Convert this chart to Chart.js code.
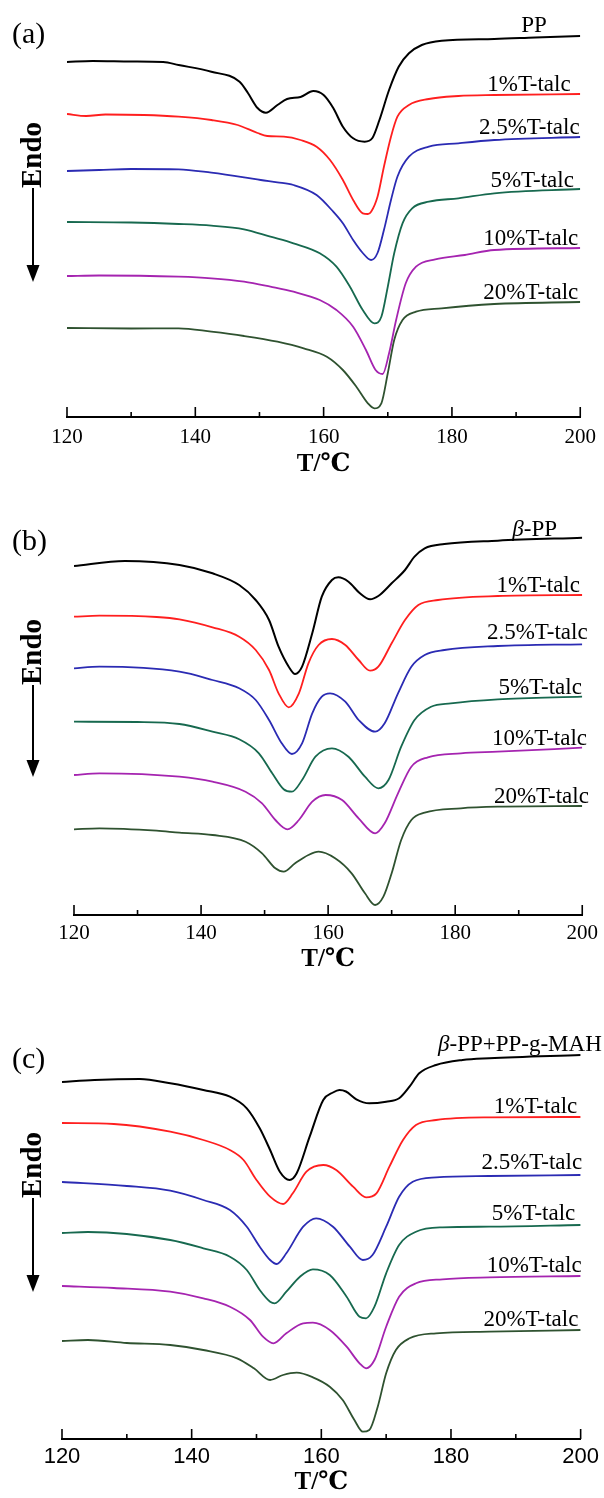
<!DOCTYPE html>
<html>
<head>
<meta charset="utf-8">
<script src="https://cdn.jsdelivr.net/npm/chart.js@4.4.1/dist/chart.umd.min.js"></script>
<style>
  html, body { margin: 0; padding: 0; background: #fff; }
  body { width: 604px; height: 1498px; position: relative; overflow: hidden; }
  canvas { position: absolute; left: 0; }
</style>
</head>
<body>
<canvas id="panelA" width="604" height="480" style="top:0px"></canvas>
<canvas id="panelB" width="604" height="495" style="top:480px"></canvas>
<canvas id="panelC" width="604" height="523" style="top:975px"></canvas>
<script>
// heat flow, arbitrary units (height above the T axis), Endo is down

// ---- (a) PP
const a_pp_T = [120,124,130,135,137.4,142.5,146.9,148.2,149.7,151.0,152.8,154.3,156.4,158.4,160.0,161.5,163.0,164.6,166.4,167.6,168.7,170.2,171.7,173.3,175.3,178.4,186.6,193,200];
const a_pp_H = [355,356,355.5,355,352,345.3,335.3,324,309,304.3,312,318,320,326,322,309,290.3,278.7,275.3,279,297,327,350.3,363.7,372,376.3,378,379.5,381];
const a_1_T = [120,123,126,132,137.4,142.5,146.6,149.7,151.2,153.8,156.4,158.9,161.0,163.0,164.6,166.1,166.9,167.4,168.4,169.4,170.5,171.5,173.3,176.4,181,186.6,200];
const a_1_H = [303,301,302.5,302,300.3,297,292,284,281,280.3,277,270.3,257,237,217,203.7,203,205.3,220.3,250.3,280.3,300.3,312,318,321,322,323];
const a_25_T = [120,125,130,137.4,142.5,147.6,150.2,152.8,155.3,158.9,161.5,163.0,164.6,166.1,167.4,168.4,169.4,170.5,171.5,173.3,176.4,181,186.6,200];
const a_25_H = [246,247,248,247.7,244.3,239.7,237,234.7,232,222,205.3,193.7,177,164,157,164,187,217,240.3,260.3,270.3,273.7,277,280];
const a_5_T = [120,130,137.4,142.5,147.6,151.7,155.3,159.4,162.0,164.1,166.1,167.9,169.0,170.0,171.0,172.3,173.8,176.4,181,186.6,200];
const a_5_H = [195,194.5,193,191.3,187.7,180.3,173.7,163.7,150.3,130.3,107,93.7,100.3,130.3,163.7,193.7,208.7,215.3,218.7,223.7,228];
const a_10_T = [120,125,137.4,142.5,147.6,151.7,155.3,159.4,162.0,164.6,166.6,168.1,169.2,170.2,171.3,172.8,174.4,177.4,182,186.6,200];
const a_10_H = [141,141.5,140.3,138.7,135.3,130.3,125.3,117,107,90.3,67,47,43,63.7,97,133.7,150.3,157.7,162,167,169];
const a_20_T = [120,130,137.4,142.5,147.6,152.8,156.9,160.5,163.0,165.1,166.9,167.9,169.0,170.0,171.0,172.3,174.4,178.4,186.6,200];
const a_20_H = [89,88.5,88.7,85.3,81,75.3,68.7,60.3,47,30.3,13.7,8.7,13.7,43.7,77,97,105.3,108.7,113,115];

// ---- (b) beta-PP
const b_pp_T = [120,128,136.6,141.8,146,148.6,150.7,152.2,153.8,154.8,155.9,157.5,159.0,160.6,161.6,163.2,165.0,166.6,167.9,170.0,172.1,173.6,175.2,178.3,186.7,200];
const b_pp_H = [349,354,350,341.7,330,315,295,268.3,248.3,241,248.3,281.7,318.3,335,337.7,333.3,321.7,315.7,319,331.7,345,358.3,366.7,371,374.3,377.3];
const b_1_T = [120,124,133,136.6,141.8,146,148.6,150.7,152.2,153.8,155.4,156.9,158.5,160.6,162.7,164.8,166.6,167.9,170.0,172.1,174.2,177.3,186.7,200];
const b_1_H = [298.3,299.3,298,295.7,287.7,278.3,265,245,221.7,207.7,221.7,251.7,270,276,270,255,244.3,248.3,271.7,295,310,315,319,320];
const b_25_T = [120,124,136.6,141.8,146,148.6,150.7,152.7,154.3,155.9,157.5,159.0,160.3,162.7,164.8,167.4,168.9,171.0,173.1,175.2,178.3,186.7,200];
const b_25_H = [246.7,248.3,243.3,235,226.7,215,195,171.7,161,171.7,201.7,218.3,221.7,213.3,195,183.3,191.7,221.7,248.3,260,265,269,270.7];
const b_5_T = [120,130,136.6,141.8,146,149.1,151.2,153.0,154.3,155.9,158.0,160.6,163.2,165.8,167.9,169.5,171.5,173.6,176.2,179.3,186.7,200];
const b_5_H = [193.3,193,191,183.3,175.7,161.7,141.7,125.7,123.3,135,158.3,166.7,158.3,138.3,126.7,135,168.3,195,208.3,211.7,215.7,218.3];
const b_10_T = [120,124,136.6,141.8,147.0,149.6,151.7,153.6,155.4,157.5,159.6,162.2,164.8,167.4,168.9,171.0,173.1,175.7,180.9,186.7,200];
const b_10_H = [140,141.7,138.3,133.3,123.3,111.7,95,85.7,95,113.3,120,115,96.7,81.7,91.7,121.7,148.3,157.7,161.7,163.3,167.3];
const b_20_T = [120,124,133,136.6,141.8,147.0,149.6,151.7,153.0,154.8,156.9,158.5,161.1,163.7,165.8,167.4,168.7,170.0,171.5,173.1,175.2,180.9,186.7,200];
const b_20_H = [85.7,86.7,84.3,82.3,80,73.3,61.7,46.7,43.3,51.7,60,63.3,56.7,41.7,21.7,10,18.3,41.7,75,95,102.3,106.7,108.3,109];

// ---- (c) beta-PP + PP-g-MAH
const c_pp_T = [120,125,132,136.7,141.8,145.9,148.5,150.5,152.1,153.6,155.1,156.2,158.2,160.3,161.8,162.8,163.8,165.4,167.4,170.0,172.0,173.6,175.1,177.7,181.8,185.9,200];
const c_pp_H = [357,359,360,355.7,349,342.3,330.7,310.7,289,267.3,259,265.7,302.3,339,346.5,349,347.5,339.7,335.7,337.3,340.7,352.3,365.7,374,379,380.7,384];
const c_1_T = [120,128,136.7,141.8,145.9,148.0,150.0,152.1,154.1,155.6,157.7,160.3,162.3,164.9,166.9,168.5,170.5,172.6,174.6,177.7,185.9,200];
const c_1_H = [316,315,307.3,299,289,279,259,242.3,235,245.7,267.3,274,269,252.3,241.7,245.7,272.3,299,314,319,321.7,322];
const c_25_T = [120,130,136.7,141.8,145.9,148.5,150.5,152.1,153.1,154.6,157.2,159.2,161.8,164.4,166.4,167.9,170.0,172.0,174.1,177.7,185.9,200];
const c_25_H = [257,253,248.3,239,229,212.3,192.3,179,175,185.7,212.3,220.7,212.3,192.3,179,184,212.3,242.3,257.3,261.7,263,264];
const c_5_T = [120,124,136.7,141.8,145.9,148.5,150.5,152.1,152.8,154.6,156.7,158.7,161.3,163.9,165.9,166.9,168.2,170.0,172.0,174.6,178.7,185.9,200];
const c_5_H = [206,207,199,190.7,182.3,169,149,137.3,135.7,147.3,162.3,169.7,164,142.3,122.3,120.7,132.3,165.7,194,207.3,211.7,212.3,214];
const c_10_T = [120,128,136.7,141.8,145.9,149.0,151.0,152.6,154.6,157.2,158.7,161.3,163.9,165.9,166.9,168.2,170.0,172.0,174.6,178.7,185.9,200];
const c_10_H = [153,151,147.3,140.7,132.3,119,102.3,95.7,105.7,115.7,116.3,109,92.3,75.7,70.7,79,112.3,142.3,155.7,159.7,161.7,163];
const c_20_T = [120,124,130,136.7,141.8,147.0,149.6,152.1,154.1,156.2,158.7,161.3,163.3,165.1,166.4,167.4,168.7,170.0,171.5,173.6,177.7,185.9,200];
const c_20_H = [98,99,96,94,89,80.7,70.7,59,64,66.3,61.7,52.3,39,19,7.3,9,32.3,65.7,89,100.7,105.7,107.3,109];

const talcNames = ['1%T-talc', '2.5%T-talc', '5%T-talc', '10%T-talc', '20%T-talc'];
const namesA = ['PP'].concat(talcNames);
const namesB = ['β-PP'].concat(talcNames);
const namesC = ['β-PP+PP-g-MAH'].concat(talcNames);

const xTicks = [120, 130, 140, 150, 160, 170, 180, 190, 200];
const xTickLabels = ['120', '', '140', '', '160', '', '180', '', '200'];

const lineColors = ['#000000', '#ff1f1f', '#2b2bb3', '#17694f', '#a524b0', '#2f5230'];
const SERIF = '"Liberation Serif", "Times New Roman", "DejaVu Serif", serif';
const SANS = '"Liberation Sans", Arial, sans-serif';

// draws inward ticks, curve names, panel letter and the Endo arrow
const decorPlugin = {
    id: 'decor',
    afterDraw(chart, args, opts) {
        const { ctx, chartArea } = chart;
        const x = chart.scales.x, y = chart.scales.y;
        ctx.save();

        ctx.strokeStyle = '#000';
        ctx.lineWidth = 1.6;
        x.ticks.forEach(t => {
            const px = x.getPixelForValue(t.value);
            const len = t.value % 20 === 0 ? 10 : 5;
            ctx.beginPath();
            ctx.moveTo(px, chartArea.bottom);
            ctx.lineTo(px, chartArea.bottom - len);
            ctx.stroke();
        });

        ctx.fillStyle = '#000';
        ctx.textAlign = 'left';
        ctx.textBaseline = 'alphabetic';
        opts.labels.forEach((lab, i) => {
            let px = x.getPixelForValue(lab.T);
            const py = y.getPixelForValue(lab.h);
            let txt = chart.data.datasets[i].label;
            if (txt.startsWith('β')) {
                ctx.font = 'italic 23px ' + SERIF;
                ctx.fillText('β', px, py);
                px += ctx.measureText('β').width;
                txt = txt.slice(1);
            }
            ctx.font = '23px ' + SERIF;
            ctx.fillText(txt, px, py);
        });

        ctx.font = '30px ' + SERIF;
        ctx.textBaseline = 'middle';
        ctx.fillText(opts.letter, 12, opts.letterY);

        // Endo arrow
        const ex = 33;
        const eBottom = y.getPixelForValue(opts.endo[0]);
        const eTip = y.getPixelForValue(opts.endo[1]);
        ctx.save();
        ctx.translate(ex + 1, eBottom);
        ctx.rotate(-Math.PI / 2);
        ctx.font = 'bold 29px ' + SERIF;
        ctx.textBaseline = 'middle';
        ctx.fillText('Endo', 0, 0);
        ctx.restore();
        ctx.lineWidth = 2;
        ctx.beginPath();
        ctx.moveTo(ex, eBottom);
        ctx.lineTo(ex, eTip - 14);
        ctx.stroke();
        ctx.beginPath();
        ctx.moveTo(ex - 6.5, eTip - 17);
        ctx.lineTo(ex + 6.5, eTip - 17);
        ctx.lineTo(ex, eTip);
        ctx.closePath();
        ctx.fill();

        ctx.restore();
    }
};

function makePanel(id, p) {
    const ctx = document.getElementById(id).getContext('2d');
    return new Chart(ctx, {
        type: 'line',
        data: {
            datasets: p.series.map((s, i) => ({
                label: p.names[i],
                data: s[0].map((t, k) => ({ x: t, y: s[1][k] })),
                borderColor: lineColors[i],
                borderWidth: i === 0 ? 2 : 1.8,
                pointRadius: 0,
                fill: false,
                cubicInterpolationMode: 'monotone'
            }))
        },
        options: {
            responsive: false,
            animation: false,
            events: [],
            layout: { padding: { left: p.left, right: 604 - p.right, top: 0, bottom: 0 } },
            plugins: {
                legend: { display: false },
                tooltip: { enabled: false },
                decor: { labels: p.labels, letter: p.letter, letterY: p.letterY, endo: p.endo }
            },
            scales: {
                x: {
                    type: 'linear',
                    min: 120,
                    max: 200,
                    afterBuildTicks: sc => { sc.ticks = xTicks.map(v => ({ value: v })); },
                    afterFit: sc => { sc.height = p.axisH; },
                    ticks: {
                        autoSkip: false,
                        maxRotation: 0,
                        padding: p.tickPad,
                        color: '#000',
                        font: { family: p.tickFont, size: p.tickSize },
                        callback: (v, i) => xTickLabels[i]
                    },
                    grid: { display: false, drawTicks: false },
                    border: { display: true, color: '#000', width: 2 },
                    title: {
                        display: true,
                        text: 'T/℃',
                        color: '#000',
                        font: { family: SERIF, size: 25, weight: 'bold' },
                        padding: { top: 0, bottom: 0 }
                    }
                },
                y: { display: false, min: 0, max: p.yMax }
            }
        },
        plugins: [decorPlugin]
    });
}

makePanel('panelA', {
    names: namesA,
    series: [[a_pp_T, a_pp_H], [a_1_T, a_1_H], [a_25_T, a_25_H], [a_5_T, a_5_H], [a_10_T, a_10_H], [a_20_T, a_20_H]],
    left: 67, right: 587, yMax: 417, axisH: 63, tickPad: 8, tickFont: SERIF, tickSize: 21,
    labels: [{ T: 190.8, h: 385 }, { T: 185.5, h: 326 }, { T: 184.2, h: 283 }, { T: 186, h: 230 }, { T: 184.9, h: 172 }, { T: 184.9, h: 118 }],
    letter: '(a)', letterY: 35, endo: [229, 135]
});

makePanel('panelB', {
    names: namesB,
    series: [[b_pp_T, b_pp_H], [b_1_T, b_1_H], [b_25_T, b_25_H], [b_5_T, b_5_H], [b_10_T, b_10_H], [b_20_T, b_20_H]],
    left: 74, right: 585, yMax: 435, axisH: 60, tickPad: 6, tickFont: SERIF, tickSize: 21,
    labels: [{ T: 189.0, h: 379 }, { T: 186.5, h: 323 }, { T: 185.0, h: 276 }, { T: 186.8, h: 221 }, { T: 185.8, h: 170 }, { T: 186.1, h: 112 }],
    letter: '(b)', letterY: 62, endo: [230, 138]
});

makePanel('panelC', {
    names: namesC,
    series: [[c_pp_T, c_pp_H], [c_1_T, c_1_H], [c_25_T, c_25_H], [c_5_T, c_5_H], [c_10_T, c_10_H], [c_20_T, c_20_H]],
    left: 62, right: 582, yMax: 464, axisH: 59, tickPad: 5, tickFont: SANS, tickSize: 22,
    labels: [{ T: 178.0, h: 388 }, { T: 186.6, h: 326 }, { T: 184.7, h: 270 }, { T: 186.3, h: 219 }, { T: 185.5, h: 167 }, { T: 185.0, h: 113 }],
    letter: '(c)', letterY: 85, endo: [241, 147]
});
</script>
</body>
</html>
